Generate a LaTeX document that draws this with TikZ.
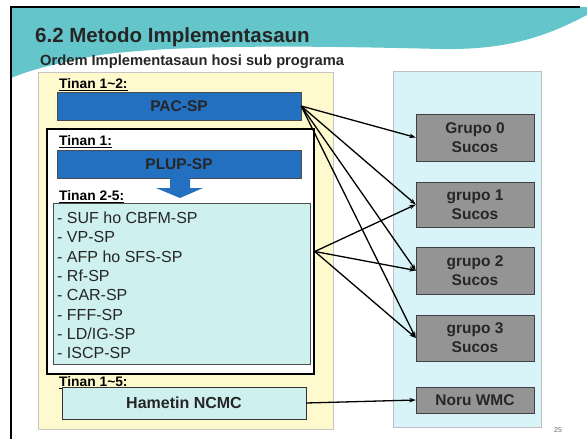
\documentclass[tikz,border=0pt]{standalone}
\usepackage{fontspec}
\setmainfont{Liberation Sans}
\usetikzlibrary{arrows.meta}
\definecolor{pacblue}{RGB}{36,112,192}
\definecolor{paleyellow}{RGB}{255,250,206}
\definecolor{palecyan}{RGB}{216,244,248}
\definecolor{listcyan}{RGB}{206,240,238}
\definecolor{swoosh}{RGB}{100,198,202}
\definecolor{boxgray}{RGB}{148,148,148}
\begin{document}
\begin{tikzpicture}[x=1pt,y=-1pt,
  bluebox/.style={draw=black!70, fill=pacblue, minimum width=244pt, minimum height=28pt, inner sep=0pt,
    font=\fontsize{15.5}{18}\selectfont\bfseries, text=black!85},
  grupobox/.style={draw=black!75, fill=boxgray, minimum width=118pt, inner sep=0pt, align=center,
    font=\fontsize{15.5}{19}\selectfont\bfseries, text=black!85},
  tinan/.style={anchor=west, inner sep=0pt, font=\fontsize{13.8}{16}\selectfont\bfseries},
  link/.style={-{Stealth[length=6.5pt,width=4.5pt]}, line width=1.3pt}]
  \useasboundingbox (0,0) rectangle (587,439);
  % slide header
  \shade[left color=swoosh, middle color=white, right color=swoosh]
    (11,7) -- (587,7) -- (587,15) .. controls (540,40) and (500,50) .. (440,49)
    .. controls (320,46) and (180,44) .. (100,55) .. controls (60,62) and (30,70) .. (11,78) -- cycle;
  \draw[line width=1.4pt] (11,439) -- (11,7) -- (580,7);
  \node[anchor=base west, inner sep=0pt, font=\fontsize{20.5}{25}\selectfont\bfseries, text=black!85]
    (title) at (35,42) {6.2 Metodo Implementasaun};
  \node[anchor=base west, inner sep=0pt, font=\fontsize{14.7}{17}\selectfont\bfseries, text=black!85]
    (subtitle) at (40,65) {Ordem Implementasaun hosi sub programa};
  % panels
  \draw[gray!45, fill=paleyellow] (38,72) rectangle (333,429);
  \draw[gray!50, fill=palecyan] (393,71) rectangle (541,427);
  \node[draw, line width=1.6pt, fill=white, minimum width=267pt, minimum height=245pt, inner sep=0pt]
    (frame) at (180.5,251.5) {};
  % left side
  \node[tinan] (t12) at (59,85) {\underline{Tinan 1\textasciitilde2:}};
  \node[bluebox] (pac) at (179,106) {PAC-SP};
  \node[tinan] (t1) at (59,142) {\underline{Tinan 1:}};
  \node[bluebox] (plup) at (179,164) {PLUP-SP};
  \fill[pacblue] (170,178) -- (190,178) -- (190,188) -- (203,188) -- (180,198) -- (156,188) -- (170,188) -- cycle;
  \node[tinan] (t25) at (59,197) {\underline{Tinan 2-5:}};
  \node[draw=black!70, fill=listcyan, minimum width=257pt, minimum height=161pt, inner sep=0pt]
    (list) at (181.5,283.5) {};
  \foreach \t [count=\i from 0] in {SUF ho CBFM-SP, VP-SP, AFP ho SFS-SP, Rf-SP, CAR-SP, FFF-SP, LD/IG-SP, ISCP-SP}
    \node[anchor=west, inner sep=0pt, font=\fontsize{16}{19}\selectfont, text=black!85]
      (item\i) at (57,218+19.3*\i) {- \t};
  \node[tinan] (t15) at (59,383) {\underline{Tinan 1\textasciitilde5:}};
  \node[draw=black!80, fill=listcyan, minimum width=244pt, minimum height=32pt, inner sep=0pt,
    font=\fontsize{16}{19}\selectfont\bfseries, text=black!85] (ncmc) at (184,403) {Hametin NCMC};
  % right side
  \node[grupobox, minimum height=47pt] (g0) at (475,137.5) {Grupo 0\\Sucos};
  \node[grupobox, minimum height=45pt] (g1) at (475,204.5) {grupo 1\\Sucos};
  \node[grupobox, minimum height=47pt] (g2) at (475,270.5) {grupo 2\\Sucos};
  \node[grupobox, minimum height=46pt] (g3) at (475,338) {grupo 3\\Sucos};
  \node[grupobox, minimum height=26pt] (wmc) at (475,400) {Noru WMC};
  % connectors
  \foreach \g in {g0,g1,g2,g3}
    \draw[link] (pac.east) -- (\g.west);
  \foreach \g in {g1,g2,g3}
    \draw[link] (frame.east) -- (\g.west);
  \draw[link] (ncmc.east) -- (wmc.west);
  \node[font=\fontsize{7}{8}\selectfont, text=black!60] (page) at (558,430) {25};
\end{tikzpicture}
\end{document}
